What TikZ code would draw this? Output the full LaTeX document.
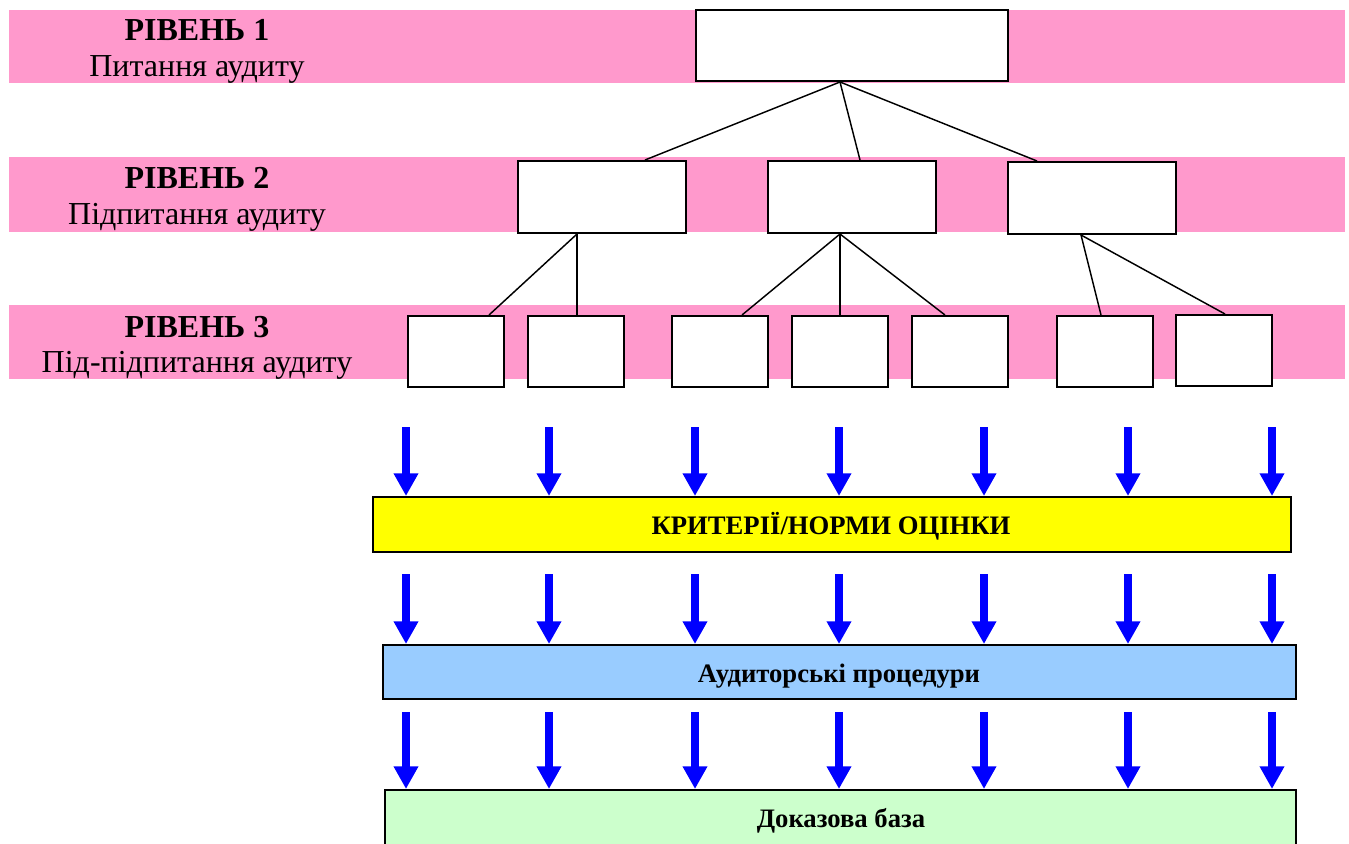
\documentclass[tikz,border=0pt]{standalone}
\usepackage{fontspec}
\setmainfont{Liberation Serif}
\usetikzlibrary{arrows.meta,calc}
\definecolor{bandpink}{HTML}{FF99CC}
\definecolor{crityellow}{HTML}{FFFF00}
\definecolor{procblue}{HTML}{99CCFF}
\definecolor{evidgreen}{HTML}{CCFFCC}
\definecolor{arrblue}{HTML}{0000FF}
\tikzset{
  band/.style={fill=bandpink, draw=none},
  qbox/.style={draw=black, fill=white, line width=1.5pt, inner sep=0pt},
  q1box/.style={qbox, minimum width=234pt, minimum height=53.25pt},
  q2box/.style={qbox, minimum width=126pt, minimum height=54pt},
  q3box/.style={qbox, minimum width=72pt, minimum height=53.25pt},
  conn/.style={draw=black, line width=1.1pt},
  lvltitle/.style={font=\fontsize{24}{28}\selectfont\bfseries, inner sep=0pt, anchor=base},
  lvlsub/.style={font=\fontsize{24}{28}\selectfont, inner sep=0pt, anchor=base},
  wide/.style={draw=black, line width=1.5pt, inner sep=0pt},
  widetext/.style={font=\fontsize{20}{24}\selectfont\bfseries, inner sep=0pt, anchor=base},
  bluearrow/.style={draw=arrblue, line width=6pt, -{Triangle[width=17.5pt,length=17pt]}, arrblue}
}
\begin{document}
\begin{tikzpicture}[x=0.75pt,y=-0.75pt]
\useasboundingbox (0,0) rectangle (1349,843);
% bands
\fill[band] (9,10) rectangle (1345,83);
\fill[band] (9,157) rectangle (1345,232);
\fill[band] (9,305) rectangle (1345,379);
% level labels
\node[lvltitle] (t1) at (197,40) {РІВЕНЬ 1};
\node[lvlsub] (s1) at (197,76) {Питання аудиту};
\node[lvltitle] (t2) at (197,188) {РІВЕНЬ 2};
\node[lvlsub] (s2) at (197,224) {Підпитання аудиту};
\node[lvltitle] (t3) at (197,337) {РІВЕНЬ 3};
\node[lvlsub] (s3) at (197,372) {Під-підпитання аудиту};
% boxes
\node[q1box] (top) at (852,45.5) {};
\node[q2box] (qa) at (602,197) {};
\node[q2box] (qb) at (852,197) {};
\node[q2box] (qc) at (1092,198) {};
\node[q3box] (r1) at (456,351.5) {};
\node[q3box] (r2) at (576,351.5) {};
\node[q3box] (r3) at (720,351.5) {};
\node[q3box] (r4) at (840,351.5) {};
\node[q3box] (r5) at (960,351.5) {};
\node[q3box] (r6) at (1104.5,351.5) {};
\node[q3box] (r7) at (1224,350.5) {};
% connectors
\draw[conn] ($(top.south)+(-12,0)$) -- ($(qa.north)+(43,0)$);
\draw[conn] ($(top.south)+(-12,0)$) -- ($(qb.north)+(8,0)$);
\draw[conn] ($(top.south)+(-12,0)$) -- ($(qc.north)+(-55,0)$);
\draw[conn] ($(qa.south)+(-25,0)$) -- ($(r1.north)+(33,0)$);
\draw[conn] ($(qa.south)+(-25,0)$) -- ($(r2.north)+(1,0)$);
\draw[conn] ($(qb.south)+(-12,0)$) -- ($(r3.north)+(22,0)$);
\draw[conn] ($(qb.south)+(-12,0)$) -- (r4.north);
\draw[conn] ($(qb.south)+(-12,0)$) -- ($(r5.north)+(-15,0)$);
\draw[conn] ($(qc.south)+(-11,0)$) -- ($(r6.north)+(-3.5,0)$);
\draw[conn] ($(qc.south)+(-11,0)$) -- ($(r7.north)+(1,0)$);
% wide boxes
\node[wide, fill=crityellow, minimum width=688.5pt, minimum height=41.25pt] (crit) at (832,524.5) {};
\node[widetext] (crittxt) at (831,534) {КРИТЕРІЇ/НОРМИ ОЦІНКИ};
\node[wide, fill=procblue, minimum width=684.75pt, minimum height=40.5pt] (proc) at (839.5,672) {};
\node[widetext] (proctxt) at (839,682) {Аудиторські процедури};
\node[wide, fill=evidgreen, minimum width=683.25pt, minimum height=42pt, anchor=north] (evid) at (840.5,789) {};
\node[widetext] (evidtxt) at (841,827) {Доказова база};
% arrows
\foreach \i/\x in {1/406,2/549,3/695,4/839,5/984,6/1128,7/1272}{
  \coordinate (a\i) at (\x,427);
  \coordinate (b\i) at (\x,574);
  \coordinate (c\i) at (\x,712);
  \draw[bluearrow] (a\i) -- (a\i |- crit.north);
  \draw[bluearrow] (b\i) -- (b\i |- proc.north);
  \draw[bluearrow] (c\i) -- (c\i |- evid.north);
}
\end{tikzpicture}
\end{document}
